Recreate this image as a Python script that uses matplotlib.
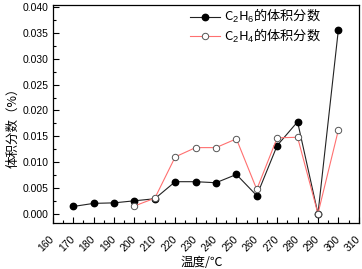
import numpy as np
import matplotlib.pyplot as plt
from matplotlib.ticker import MultipleLocator, AutoMinorLocator

plt.rcParams['font.family'] = ['Liberation Sans', 'Noto Sans CJK SC', 'DejaVu Sans']
plt.rcParams['mathtext.fontset'] = 'custom'
plt.rcParams['mathtext.rm'] = 'Liberation Sans'
plt.rcParams['mathtext.it'] = 'Liberation Sans'

# DATA
temp_c2h6 = [170, 180, 190, 200, 210, 220, 230, 240, 250, 260, 270, 280, 290, 300]
c2h6 = [0.0014, 0.0020, 0.0021, 0.0025, 0.0029, 0.0062, 0.0062, 0.0060, 0.0076,
        0.0035, 0.0132, 0.0178, 0.0000, 0.0356]
temp_c2h4 = [200, 210, 220, 230, 240, 250, 260, 270, 280, 290, 300]
c2h4 = [0.0015, 0.0030, 0.0110, 0.0128, 0.0128, 0.0145, 0.0047, 0.0147, 0.0148,
        0.0000, 0.0162]
xticks = list(range(160, 320, 10))

fig = plt.figure(figsize=(3.62, 2.69), dpi=100)
ax = fig.add_axes([0.146, 0.171, 0.845, 0.810])

ax.plot(temp_c2h6, c2h6, '-o', color='#222222', lw=0.8, ms=4.6,
        mfc='black', mec='black', label='C$_2$H$_6$的体积分数')
ax.plot(temp_c2h4, c2h4, '-o', color='#ff7070', lw=0.8, ms=4.6,
        mfc='white', mec='#555555', mew=0.7, label='C$_2$H$_4$的体积分数')

ax.set_xlim(160, 310)
ax.set_ylim(-0.0018, 0.0404)
ax.set_xticks(xticks)
ax.set_xticklabels([str(v) for v in xticks], rotation=45, ha='right', va='center',
                   rotation_mode='anchor', fontsize=7.5)
ax.yaxis.set_major_locator(MultipleLocator(0.005))
ax.yaxis.set_major_formatter(plt.FormatStrFormatter('%.3f'))
ax.xaxis.set_minor_locator(AutoMinorLocator(2))
ax.yaxis.set_minor_locator(AutoMinorLocator(2))
ax.tick_params(axis='both', which='both', direction='in', top=False, right=False,
               labelsize=7.5, width=0.8)
ax.tick_params(which='major', length=4)
ax.tick_params(which='minor', length=2.5)
ax.tick_params(axis='x', pad=10.5)
ax.tick_params(axis='y', pad=3)
for sp in ax.spines.values():
    sp.set_linewidth(0.9)

ax.set_xlabel('温度/℃', fontsize=9, family=['Noto Sans CJK SC', 'DejaVu Sans'])
ax.set_ylabel('体积分数（%）', fontsize=9, family=['Noto Sans CJK SC', 'DejaVu Sans'])
ax.xaxis.set_label_coords(0.487, -0.151)
ax.yaxis.set_label_coords(-0.108, 0.45)

leg = ax.legend(loc='upper left', bbox_to_anchor=(0.448, 0.99), frameon=False,
                borderpad=0, borderaxespad=0,
                handlelength=2.3, handletextpad=0.25, labelspacing=0.1,
                prop={'family': ['Noto Sans CJK SC', 'DejaVu Sans'], 'size': 9.5})

fig.savefig('out.png', dpi=100)
